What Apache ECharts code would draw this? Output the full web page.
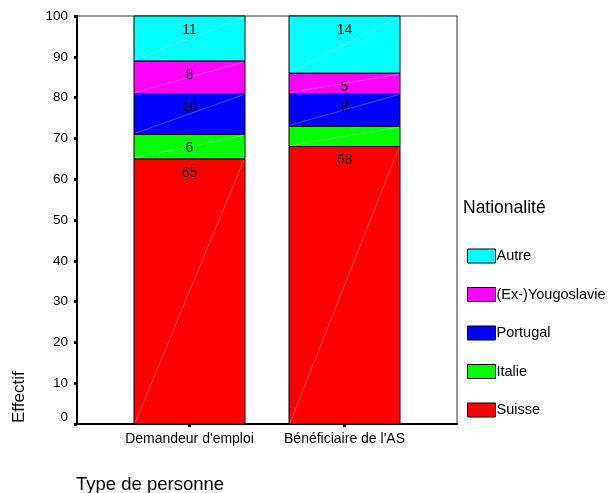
<!DOCTYPE html>
<html>
<head>
<meta charset="utf-8">
<script src="https://cdn.jsdelivr.net/npm/echarts@6/dist/echarts.min.js"></script>
<style>
  html, body { margin: 0; padding: 0; background: #fff; }
  #chart { width: 609px; height: 493px; }
</style>
</head>
<body>
<div id="chart"></div>
<script>
// Nationalité par type de personne (effectifs en %)
const categories = ["Demandeur d'emploi", "Bénéficiaire de l'AS"];
const nationalities = ['Suisse', 'Italie', 'Portugal', '(Ex-)Yougoslavie', 'Autre'];
const suisse = [65, 68];
const italie = [6, 5];
const portugal = [10, 8];
const yougoslavie = [8, 5];
const autre = [11, 14];
// segments whose value label is printed
const showLabel = {
  'Suisse': [true, true],
  'Italie': [true, false],
  'Portugal': [true, true],
  '(Ex-)Yougoslavie': [true, true],
  'Autre': [true, true]
};
const yTicks = [0, 10, 20, 30, 40, 50, 60, 70, 80, 90, 100];

const colors = {
  'Suisse': '#ff0000',
  'Italie': '#00ff00',
  'Portugal': '#0000ff',
  '(Ex-)Yougoslavie': '#ff00ff',
  'Autre': '#00ffff'
};
const valuesByName = {
  'Suisse': suisse,
  'Italie': italie,
  'Portugal': portugal,
  '(Ex-)Yougoslavie': yougoslavie,
  'Autre': autre
};

const FONT = '"Liberation Sans", Arial, sans-serif';

// cumulative stacking of the segments
const base = categories.map(() => 0);
const series = nationalities.map(name => {
  const vals = valuesByName[name];
  const data = vals.map((v, i) => {
    const start = base[i];
    base[i] += v;
    return [i, start, base[i], v, showLabel[name][i] ? 1 : 0];
  });
  return {
    name: name,
    type: 'custom',
    xAxisIndex: 1,
    yAxisIndex: 1,
    itemStyle: { color: colors[name] },
    data: data,
    renderItem: function (params, api) {
      const cat = api.value(0);
      const p0 = api.coord([cat, api.value(1)]);
      const p1 = api.coord([cat, api.value(2)]);
      const bw = api.size([1, 0])[0] * 0.716;
      const x = p0[0] - bw / 2;
      const yTop = p1[1];
      const h = p0[1] - p1[1];
      const children = [
        {
          type: 'rect',
          shape: { x: x, y: yTop, width: bw, height: h },
          style: { fill: colors[name], stroke: '#000', lineWidth: 1 }
        },
        {
          type: 'line',
          shape: { x1: x + 1, y1: p0[1] - 1, x2: x + bw - 1, y2: yTop + 1 },
          style: { stroke: 'rgba(255,255,255,0.45)', lineWidth: 0.7 }
        }
      ];
      if (api.value(4)) {
        children.push({
          type: 'text',
          style: {
            text: String(api.value(3)),
            x: p0[0],
            y: yTop + 14,
            align: 'center',
            verticalAlign: 'middle',
            font: '14px ' + FONT,
            fill: '#000'
          }
        });
      }
      return { type: 'group', children: children };
    }
  };
});

const chart = echarts.init(document.getElementById('chart'), null, { renderer: 'canvas' });
chart.setOption({
  animation: false,
  backgroundColor: '#fff',
  textStyle: { fontFamily: FONT },
  grid: [
    { left: 77, right: 152, top: 16, bottom: 69, show: true, borderColor: '#333', borderWidth: 1, backgroundColor: 'transparent' },
    { left: 112, width: 310, top: 16, bottom: 69 }
  ],
  xAxis: [
    {
      gridIndex: 0, type: 'value', min: 0, max: 1,
      axisLine: { show: true, lineStyle: { color: '#000', width: 2 } },
      axisTick: { show: false }, axisLabel: { show: false }, splitLine: { show: false }
    },
    {
      gridIndex: 1, type: 'category', data: categories,
      axisLine: { show: false },
      axisTick: { show: true, alignWithLabel: true, length: 3, interval: 0, lineStyle: { color: '#000', width: 3 } },
      axisLabel: { margin: 8, interval: 0, hideOverlap: false, fontSize: 14, color: '#000', fontFamily: FONT },
      splitLine: { show: false }
    }
  ],
  yAxis: [
    {
      gridIndex: 0, type: 'value', min: 0, max: 100, interval: 10,
      axisLine: { show: true, lineStyle: { color: '#000', width: 2 } },
      axisTick: { show: true, length: 3, lineStyle: { color: '#000', width: 3 } },
      axisLabel: {
        margin: 9, fontSize: 13.5, color: '#000', fontFamily: FONT,
        formatter: v => (yTicks.indexOf(v) === 0 ? '{z|' + v + '}' : String(v)),
        rich: { z: { fontSize: 13.5, color: '#000', fontFamily: FONT, padding: [0, 0, 14, 0] } }
      },
      splitLine: { show: false }
    },
    { gridIndex: 1, type: 'value', min: 0, max: 100, show: false }
  ],
  legend: {
    orient: 'vertical',
    left: 467,
    top: 248.5,
    padding: 0,
    data: nationalities.slice().reverse(),
    icon: 'rect',
    itemWidth: 28,
    itemHeight: 14,
    itemGap: 23.5,
    itemStyle: { borderColor: '#000', borderWidth: 1 },
    textStyle: { fontSize: 14.5, lineHeight: 14, color: '#000', fontFamily: FONT, padding: [0, 0, 0, -4] },
    selectedMode: false
  },
  graphic: [
    {
      type: 'text', left: 463, top: 199,
      style: { text: 'Nationalité', font: '17.5px ' + FONT, fill: '#000' }
    },
    {
      type: 'text', left: 76, top: 475,
      style: { text: 'Type de personne', font: '18.5px ' + FONT, fill: '#000' }
    },
    {
      type: 'text', x: 19, y: 423, rotation: Math.PI / 2,
      style: { text: 'Effectif', font: '17px ' + FONT, fill: '#000', align: 'left', verticalAlign: 'middle' }
    }
  ],
  series: series
});
</script>
</body>
</html>
